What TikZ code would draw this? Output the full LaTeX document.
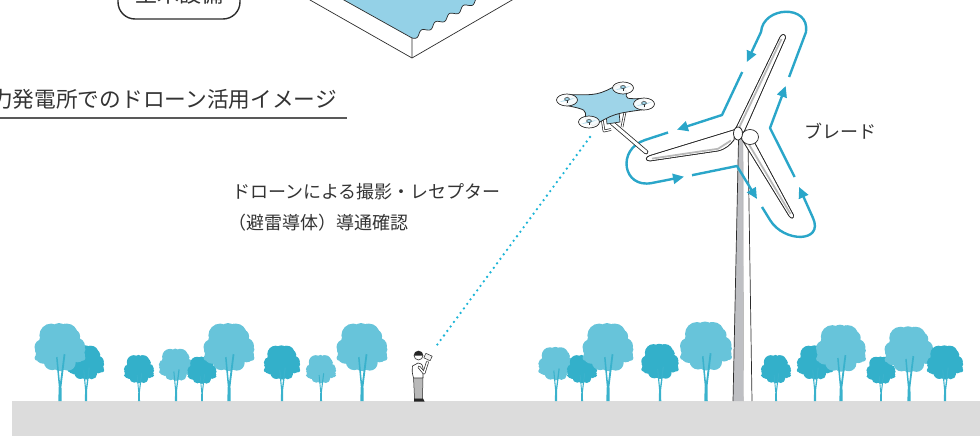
\documentclass[tikz,border=0pt]{standalone}
\usepackage{fontspec}
\setmainfont{Noto Sans CJK JP}
\usetikzlibrary{arrows.meta}
\definecolor{treelight}{HTML}{67C4DA}
\definecolor{treedark}{HTML}{33B0CA}
\definecolor{trunkcol}{HTML}{3AB2CC}
\definecolor{pathblue}{HTML}{2AA6C9}
\definecolor{dotblue}{HTML}{1CB4D6}
\definecolor{water}{HTML}{94D1E7}
\definecolor{dronebody}{HTML}{9ED4E8}
\definecolor{groundgray}{HTML}{DCDCDC}
\definecolor{towergray}{HTML}{BEBFC3}
\definecolor{ink}{HTML}{333333}
\definecolor{lineink}{HTML}{2B2B2B}

% one tree: trunk x position, crown width, crown colour
\newcommand{\drawtree}[3]{%
  \begin{scope}[shift={(#1,401)}, x=#2pt, y=#2pt]
    \fill[#3] (0,1.12) circle (0.40) (-0.18,1.34) circle (0.24)
      (0.14,1.36) circle (0.22) (-0.02,1.42) circle (0.17)
      (-0.36,1.10) circle (0.16) (-0.34,0.92) circle (0.16)
      (0.34,1.12) circle (0.17) (0.36,0.94) circle (0.15)
      (-0.16,0.80) circle (0.17) (0.16,0.78) circle (0.16)
      (0,0.76) circle (0.15) (-0.42,1.02) circle (0.09)
      (0.44,1.05) circle (0.08) (0.27,1.32) circle (0.14)
      (-0.30,1.25) circle (0.12) (0.46,0.88) circle (0.06)
      (-0.46,0.88) circle (0.06) (0.10,1.50) circle (0.08);
    \fill[trunkcol] (-0.035,0) -- (0.035,0) -- (0.03,0.3) -- (0.11,0.95)
      -- (0.075,0.96) -- (0.0,0.37) -- (-0.05,0.9) -- (-0.08,0.89)
      -- (-0.025,0.3) -- cycle;
  \end{scope}}

\tikzset{
  flight/.style={draw=pathblue, line width=2.4pt,
    -{Triangle[length=11pt,width=10pt]}},
  bladeshape/.style={fill=white, draw=lineink, line width=0.6pt},
  bladeshade/.style={draw=gray!55, line width=1.8pt},
  label/.style={inner sep=0pt, text=ink},
}

\begin{document}
\begin{tikzpicture}[x=1pt, y=-1pt, line join=round]
\useasboundingbox (0,0) rectangle (980,436);
\clip (0,0) rectangle (980,436);

% ---------- ground ----------
\fill[groundgray] (12,401) rectangle (980,436);

% ---------- trees ----------
\drawtree{86}{35}{treedark}
\drawtree{139}{29}{treedark}
\drawtree{176}{33}{treelight}
\drawtree{202}{28}{treedark}
\drawtree{282}{35}{treedark}
\drawtree{321}{29}{treelight}
\drawtree{60}{49}{treelight}
\drawtree{229}{49}{treelight}
\drawtree{362}{49}{treelight}

\drawtree{556}{34}{treelight}
\drawtree{582}{29}{treedark}
\drawtree{660}{36}{treedark}
\drawtree{776}{29}{treedark}
\drawtree{815}{35}{treedark}
\drawtree{881}{28}{treedark}
\drawtree{608}{49}{treelight}
\drawtree{706}{50}{treelight}
\drawtree{841}{48}{treelight}
\drawtree{909}{47}{treelight}
\drawtree{945}{35}{treedark}

% ---------- basin corner at the top ----------
\fill[water] (326,-10) -- (412,38)
  -- plot[domain=0:1, samples=90, variable=\t]
     ({412+70*\t+2.2*sin(1800*\t)*0.505}, {38-40.9*\t+2.2*sin(1800*\t)*0.863})
  -- (495,-10) -- cycle;
\draw[lineink, line width=0.7pt] (300,-5.7) -- (412,58) -- (515,-1.7);
\draw[lineink, line width=0.7pt] (326,-10) -- (412,38) -- (412,58);
\draw[lineink, line width=0.7pt]
  plot[domain=0:1, samples=90, variable=\t]
  ({412+70*\t+2.2*sin(1800*\t)*0.505}, {38-40.9*\t+2.2*sin(1800*\t)*0.863});

% ---------- labels ----------
\node[draw=lineink, line width=1.4pt, rounded corners=17pt, minimum width=122pt,
      minimum height=50pt, inner sep=0pt, text=ink,
      font=\fontsize{22}{26}\selectfont] (civil) at (179,-6) {土木設備};

\node[label, anchor=base west, font=\fontsize{21.7}{26}\selectfont]
  (title) at (-9,107.5) {力発電所でのドローン活用イメージ};
\draw[line width=1.8pt, gray!70!black] (0,118.3) -- (347,118.3);

\node[label, anchor=base west, font=\fontsize{18}{22}\selectfont]
  (task1) at (232,198) {ドローンによる撮影・レセプター};
\node[label, anchor=base west, font=\fontsize{18}{22}\selectfont]
  (task2) at (228,229) {（避雷導体）導通確認};
\node[label, font=\fontsize{18}{22}\selectfont] (bladelabel) at (840,131) {ブレード};

% ---------- tower ----------
\fill[towergray] (733,401) -- (738.5,140) -- (743,140) -- (743.5,401) -- cycle;
\draw[gray!70, line width=0.4pt] (743.5,401) -- (743,140);
\draw[lineink, line width=0.7pt] (733,401) -- (738.5,140);
\draw[lineink, line width=0.7pt] (752,401) -- (748,140);

% ---------- blades ----------
% upper blade
\path[bladeshape] (734.5,131) -- (780,37) .. controls (782,33) and (786,34) .. (785.5,38) -- (744,132) -- cycle;
\draw[bladeshade] (737.5,131) -- (781.5,39);
\path[draw=lineink, line width=0.6pt] (734.5,131) -- (780,37) .. controls (782,33) and (786,34) .. (785.5,38) -- (744,132) -- cycle;
% left blade
\path[bladeshape] (735,129.5) -- (650,155.5) .. controls (645,157) and (645,161) .. (650,161)
  -- (718,151) .. controls (726,149) and (730,145) .. (734,140) -- cycle;
\draw[bladeshade] (652,158.6) -- (718,148.8) -- (731,140.5);
\path[draw=lineink, line width=0.6pt] (735,129.5) -- (650,155.5) .. controls (645,157) and (645,161) .. (650,161)
  -- (718,151) .. controls (726,149) and (730,145) .. (734,140) -- cycle;
% lower blade
\path[bladeshape] (741,138) -- (789,216) .. controls (791,219) and (794,219) .. (793.5,215) -- (750,134) -- cycle;
\draw[bladeshade] (744.5,137) -- (790.5,214);
\path[draw=lineink, line width=0.6pt] (741,138) -- (789,216) .. controls (791,219) and (794,219) .. (793.5,215) -- (750,134) -- cycle;

% nacelle and spinner
\draw[fill=white, draw=lineink, line width=0.7pt] (750,137) ellipse [x radius=8.5, y radius=7.5];
\draw[fill=white, draw=lineink, line width=0.8pt] (738,133.5) ellipse [x radius=4.5, y radius=6.5];

% ---------- inspection flight path ----------
\coordinate (p1s) at (789.1,77);
\coordinate (tR) at (806,32);
\coordinate (tL) at (761,32);
\coordinate (a1) at (746.9,62);
\coordinate (p2s) at (742.2,72);
\coordinate (L1) at (722,115);
\coordinate (a2) at (677,129.6);
\coordinate (p3s) at (668,132.5);
\coordinate (lU) at (645,140);
\coordinate (lD) at (652,183);
\coordinate (a3) at (684,176.7);
\coordinate (p4s) at (692,175.2);
\coordinate (B1) at (737,166);
\coordinate (a4) at (757,199);
\coordinate (p5s) at (762,207);
\coordinate (bL) at (770,220);
\coordinate (bR) at (813,218);
\coordinate (a5) at (799.1,187);
\coordinate (p6s) at (794.6,177);
\coordinate (R1) at (770,128);
\coordinate (a6) at (785.7,86);

\draw[flight] (p1s) -- (tR) .. controls (810,4) and (763,6) .. (tL) -- (a1);
\draw[flight] (p2s) -- (L1) -- (a2);
\draw[flight] (p3s) -- (lU) .. controls (616.5,149.3) and (622.6,188.8) .. (lD) -- (a3);
\draw[flight] (p4s) -- (B1) -- (a4);
\draw[flight] (p5s) -- (bL) .. controls (784,243) and (824,242.7) .. (bR) -- (a5);
\draw[flight] (p6s) -- (R1) -- (a6);

% ---------- drone ----------
\coordinate (Ra) at (567,100);
\coordinate (Rb) at (623,88);
\coordinate (Rc) at (644,104);
\coordinate (Rd) at (589,122);
\coordinate (rodtop) at (612,123);
\coordinate (rodtip) at (646,152);
\coordinate (dronecam) at (590,137);

% probe rod
\draw[line width=4.6pt, lineink, line cap=round] (rodtop) -- (rodtip);
\draw[line width=3pt, white, line cap=round] (rodtop) -- (rodtip);

% landing gear and camera
\draw[line width=2.6pt, lineink] (601,112) -- (604,131) -- (611,129.5) (625,112) -- (622,127);
\draw[line width=1.2pt, white] (601,112) -- (604,131) -- (611,129.5) (625,112) -- (622,127);
\draw[fill=dronebody, draw=lineink, line width=0.7pt] (606,114) -- (619,112) -- (620,122) -- (607,124) -- cycle;

% body
\draw[fill=dronebody, draw=lineink, line width=0.8pt]
  (567.8,94.6) .. controls (597.8,95.2) .. (619,84.2) -- (627,91.8)
  .. controls (625.1,99) .. (643.7,98.5) -- (644.3,109.5)
  .. controls (614.2,113.6) .. (592.8,126) -- (585.2,118)
  .. controls (586.3,109.7) .. (566.2,105.4) -- cycle;

% rotors
\foreach \c in {Ra,Rb,Rc,Rd}{
  \begin{scope}[shift={(\c)}]
    \draw[fill=white, fill opacity=0.9, draw=lineink, line width=0.7pt] (0,0) ellipse [x radius=10.5, y radius=6];
    \fill[dronebody] (-7.5,1.8) -- (0,-0.6) -- (7.5,-1.8) -- (0,0.9) -- cycle;
    \draw[lineink, line width=0.5pt] (0,-1) -- (0,2.5);
    \draw[fill=dronebody, draw=lineink, line width=0.5pt] (0,-1) ellipse [x radius=2.4, y radius=1.5];
  \end{scope}
}

% ---------- operator ----------
\coordinate (remote) at (437,345);
\fill[gray!55, draw=lineink, line width=0.5pt] (413.5,377) -- (423,377) -- (422.5,399) -- (414.5,399) -- cycle;
\fill[gray!30!black] (414,398.5) -- (423,398.5) -- (424.5,401.5) -- (414,401.5) -- cycle;
\draw[fill=white, draw=lineink, line width=0.6pt] (412.5,366) .. controls (412,372) .. (413.5,378)
  -- (423,378) -- (423,368) .. controls (422,364) .. (418,363) -- cycle;
\draw[line width=2.8pt, lineink, line cap=round] (419,367) -- (424,373) -- (427.5,362);
\draw[line width=1.4pt, white, line cap=round] (419,367) -- (424,373) -- (427.5,362);
\draw[fill=gray!12, draw=lineink, line width=0.5pt, rotate around={-25:(428,357)}] (424.5,354.5) rectangle (431.5,359.5);
\draw[fill=white, draw=lineink, line width=0.6pt] (418.5,355.5) circle (4.5);
\fill[gray!30!black] (414,355.5) arc[start angle=180, end angle=360, radius=4.5] -- cycle;

% radio link from operator to drone
\draw[dotblue, line width=2.6pt, line cap=round, dash pattern=on 0pt off 5.6pt] (dronecam) -- (remote);

\end{tikzpicture}
\end{document}
